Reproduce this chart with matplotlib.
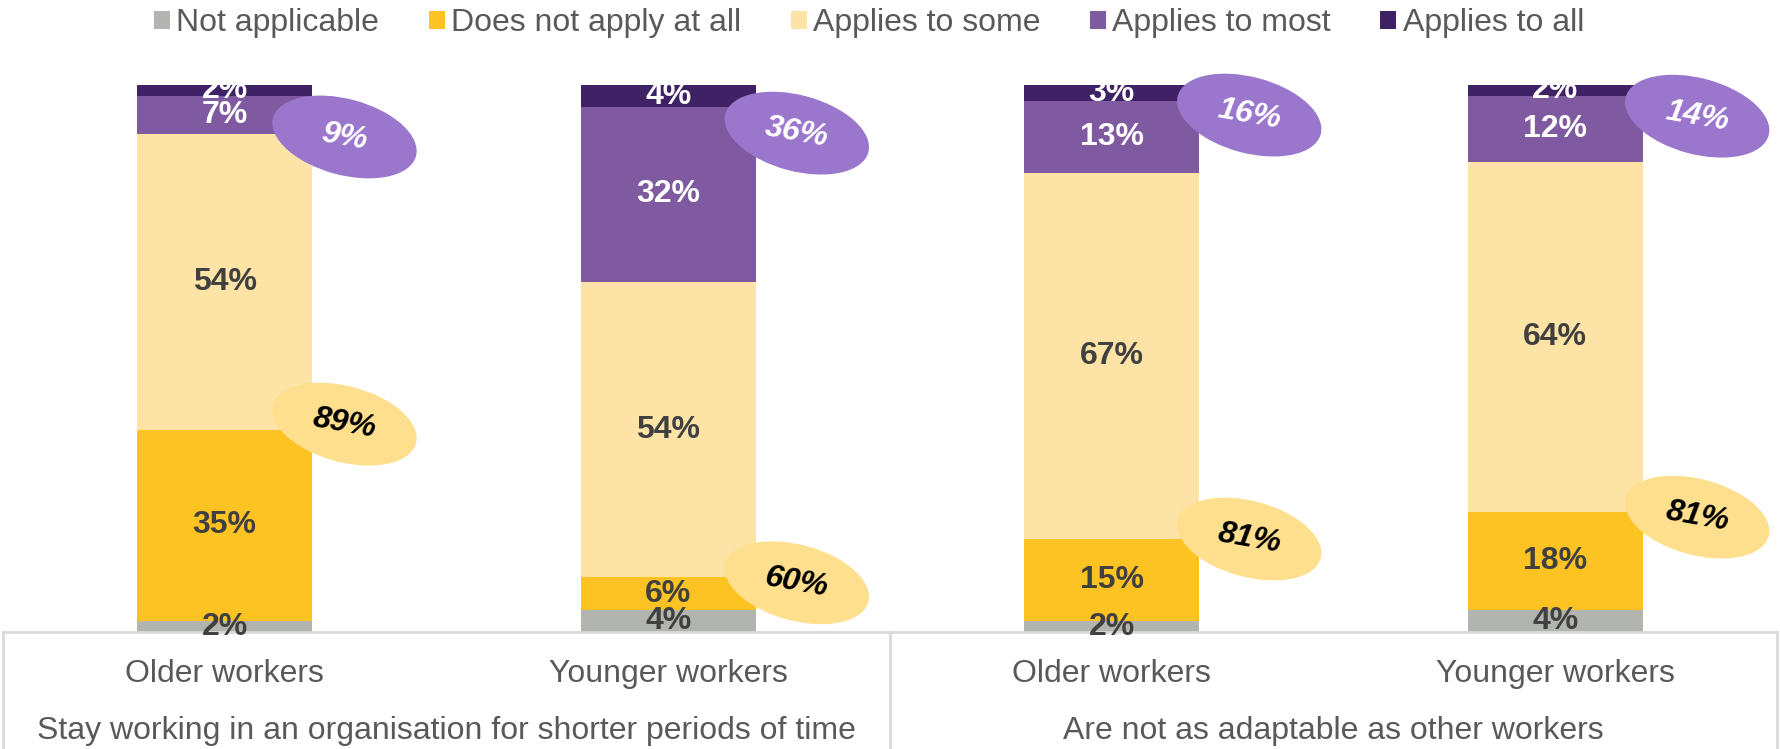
import matplotlib.pyplot as plt
from matplotlib import transforms
from matplotlib.patches import Ellipse, Patch

plt.rcParams['font.family'] = ['Liberation Sans', 'DejaVu Sans']

# Data
groups = ["Stay working in an organisation for shorter periods of time",
          "Are not as adaptable as other workers"]
bars = ["Older workers", "Younger workers", "Older workers", "Younger workers"]
series = ["Not applicable", "Does not apply at all", "Applies to some",
          "Applies to most", "Applies to all"]
not_applicable = [2, 4, 2, 4]
not_at_all = [35, 6, 15, 18]
to_some = [54, 54, 67, 64]
to_most = [7, 32, 13, 12]
to_all = [2, 4, 3, 2]
# combined totals shown in the bubbles
some_or_less = [89, 60, 81, 81]
most_or_all = [9, 36, 16, 14]

colors = ["#B2B4B0", "#FDC322", "#FDE3A6", "#7F5AA1", "#3F2266"]
label_colors = ["#404040", "#404040", "#404040", "white", "white"]
bubble_yellow = "#FDDF8E"
bubble_purple = "#9B76CD"
grid_grey = "#D9D9D9"
text_grey = "#595959"

# bubble placement (x offset from bar centre, heights in %)
bubble_dx = [0.27, 0.29, 0.31, 0.32]
yellow_y = [38, 9, 17, 21]
purple_y = [90.5, 91.2, 94.5, 94.3]

fig = plt.figure(figsize=(17.8, 7.49), dpi=100)
ax = fig.add_axes([3 / 1780, 1 - 632 / 749, 1774 / 1780, 547 / 749])

x = list(range(len(bars)))
width = 0.395
bottom = [0] * len(bars)
stack = [not_applicable, not_at_all, to_some, to_most, to_all]
for vals, col, lc in zip(stack, colors, label_colors):
    ax.bar(x, vals, width, bottom=bottom, color=col, edgecolor='none')
    for xi, v, b in zip(x, vals, bottom):
        ax.text(xi, b + v / 2, f"{v}%", ha='center', va='center',
                fontsize=23, fontweight='bold', color=lc, clip_on=False, zorder=3)
    bottom = [b + v for b, v in zip(bottom, vals)]

# Bubbles with the combined shares
for xi, dx, yy, py, low, high in zip(x, bubble_dx, yellow_y, purple_y,
                                      some_or_less, most_or_all):
    for cy, val, fc, tc in [(yy, low, bubble_yellow, 'black'),
                            (py, high, bubble_purple, 'white')]:
        trans = fig.dpi_scale_trans + transforms.ScaledTranslation(
            xi + dx, cy, ax.transData)
        ax.add_patch(Ellipse((0, 0), 1.48, 0.76, angle=-15, transform=trans,
                             facecolor=fc, edgecolor='none', clip_on=False, zorder=4))
        ax.text(xi + dx, cy, f"{val}%", ha='center', va='center',
                fontsize=23, fontweight='bold', fontstyle='italic', color=tc,
                rotation=-10, clip_on=False, zorder=5)

ax.set_xlim(-0.5, 3.5)
ax.set_ylim(0, 100)
ax.axis('off')

# Category box below the bars
blend = transforms.blended_transform_factory(ax.transData, ax.transAxes)
ax.plot([-0.5, 3.5], [0, 0], color=grid_grey, lw=2, transform=blend,
        clip_on=False, zorder=1)
for sx in [-0.5, 1.5, 3.5]:
    ax.plot([sx, sx], [0, -0.25], color=grid_grey, lw=2, transform=blend,
            clip_on=False, zorder=1)
for xi, name in zip(x, bars):
    ax.text(xi, -0.077, name, ha='center', va='center', fontsize=23,
            color=text_grey, transform=blend)
for gi, g in enumerate(groups):
    ax.text(0.5 + 2 * gi, -0.181, g, ha='center', va='center', fontsize=23,
            color=text_grey, transform=blend)

handles = [Patch(facecolor=c, edgecolor='none') for c in colors]
fig.legend(handles, series, loc='center', bbox_to_anchor=(869 / 1780, 1 - 23 / 749),
           ncol=5, frameon=False, fontsize=23, labelcolor=text_grey,
           handlelength=0.5, handleheight=0.5, handletextpad=0.2,
           columnspacing=1.55, borderpad=0)

fig.savefig("out.png", dpi=100)
